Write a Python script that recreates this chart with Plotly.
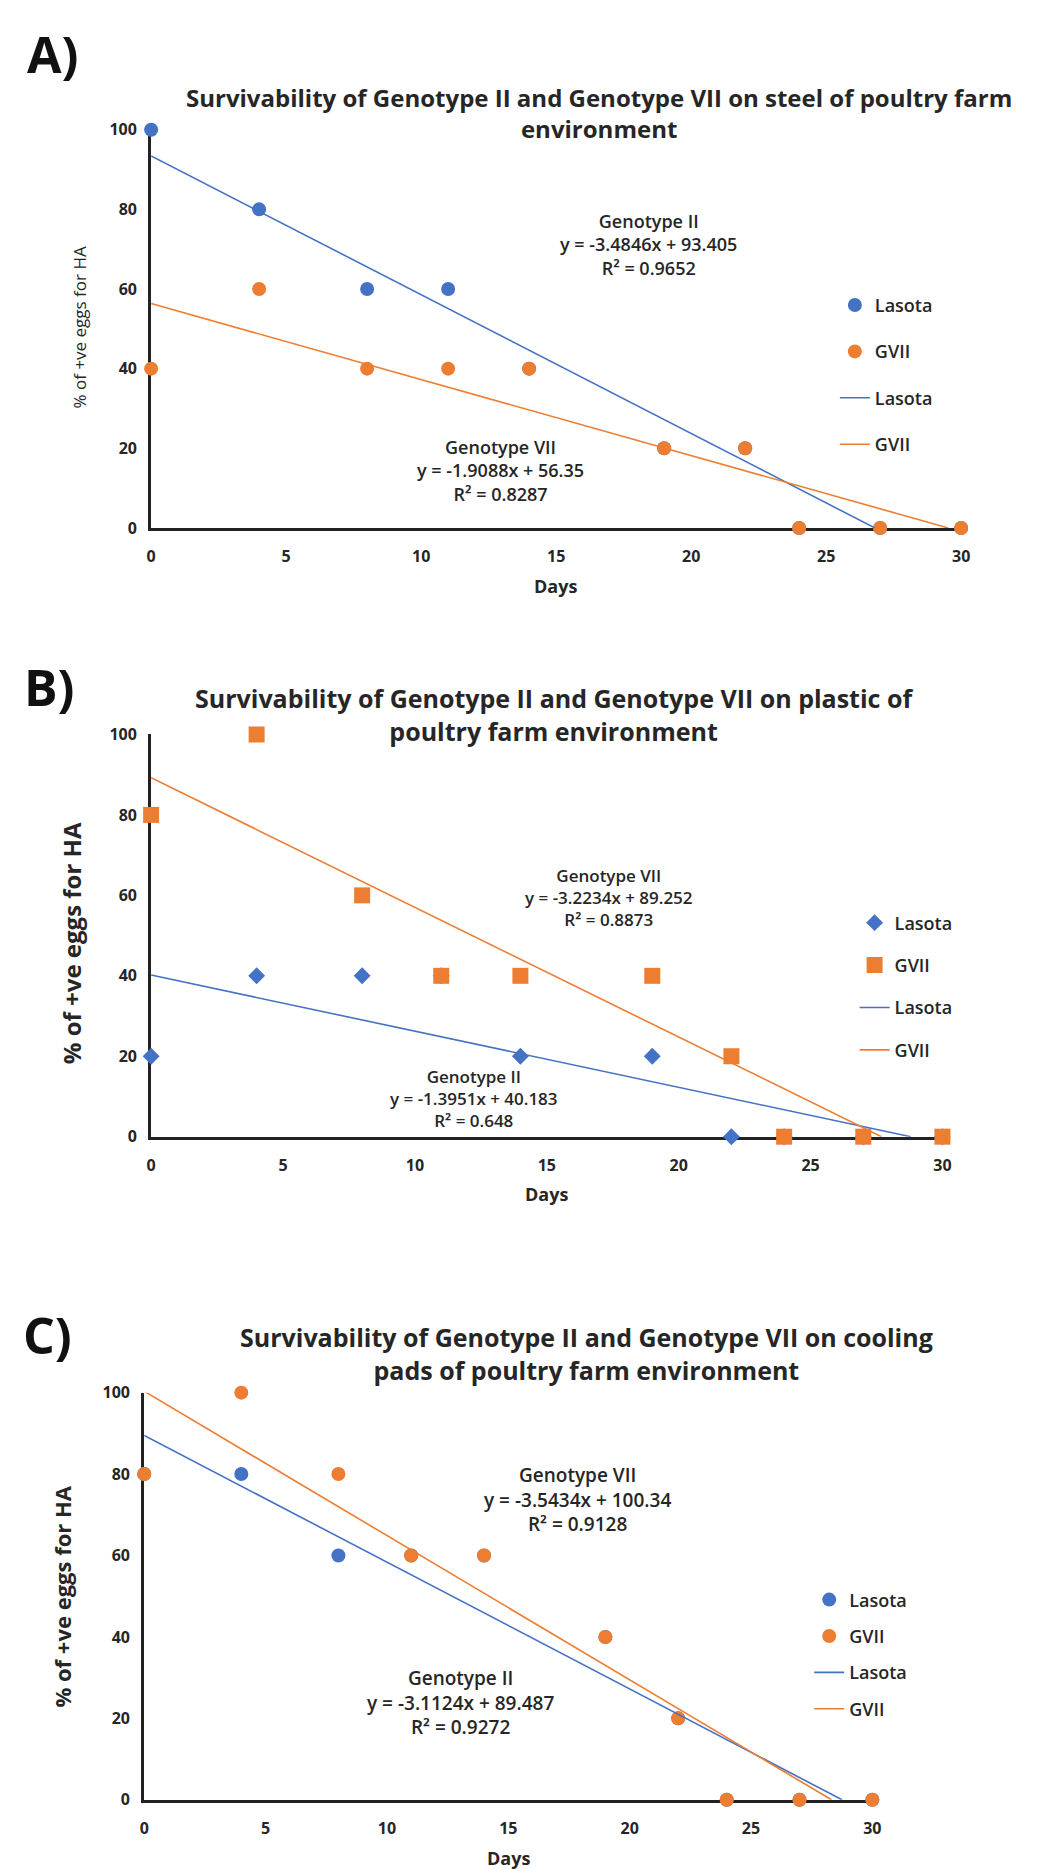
import numpy as np
import plotly.graph_objects as go

# ---------------- data ----------------
days = [0, 4, 8, 11, 14, 19, 22, 24, 27, 30]

steel_lasota = [100, 80, 60, 60, 40, 20, 20, 0, 0, 0]
steel_gvii = [40, 60, 40, 40, 40, 20, 20, 0, 0, 0]

plastic_lasota = [20, 40, 40, 40, 20, 20, 0, 0, 0, 0]
plastic_gvii = [80, 100, 60, 40, 40, 40, 20, 0, 0, 0]

pads_lasota = [80, 80, 60, 60, 60, 40, 20, 0, 0, 0]
pads_gvii = [80, 100, 80, 60, 60, 40, 20, 0, 0, 0]

series_names = ["Lasota", "GVII"]
x_ticks = [0, 5, 10, 15, 20, 25, 30]
y_ticks = [0, 20, 40, 60, 80, 100]

panel_letters = ["A)", "B)", "C)"]
panel_titles = [
    ["Survivability of Genotype II and Genotype VII on steel of poultry farm", "environment"],
    ["Survivability of Genotype II and Genotype VII on plastic of", "poultry farm environment"],
    ["Survivability of Genotype II and Genotype VII on cooling", "pads of poultry farm environment"],
]
y_title = "% of +ve eggs for HA"
x_title = "Days"

BLUE = "#4472C4"
ORANGE = "#ED7D31"
TXT = "#262626"
FONT = "Open Sans"

W, H = 1047, 1869


def px(x, y):
    return x / W, 1 - y / H


def fmt(v):
    return f"{v:.5g}"


def fit(x, y):
    m, b = np.polyfit(x, y, 1)
    pred = m * np.array(x) + b
    ss_res = np.sum((np.array(y) - pred) ** 2)
    ss_tot = np.sum((np.array(y) - np.mean(y)) ** 2)
    return m, b, 1 - ss_res / ss_tot


panels = [
    dict(lasota=steel_lasota, gvii=steel_gvii, sym_l="circle", sym_g="circle", sz_l=14, sz_g=14,
         xl=140, xr=961, yt=112, yb=515,
         letter=(40, 35), title=(594, 95, 24),
         ytitle=(67, 312, 17, False), days=(550, 574),
         legend=(833, 271, 20),
         ann=[("Genotype II", "lasota", 644, 228),
              ("Genotype VII", "gvii", 494, 457)],
         annsize=18),
    dict(lasota=plastic_lasota, gvii=plastic_gvii, sym_l="diamond", sym_g="square", sz_l=13, sz_g=16,
         xl=140, xr=942, yt=724, yb=1131,
         letter=(37, 676), title=(548, 704, 25),
         ytitle=(60, 935, 24, True), days=(541, 1189),
         legend=(853, 896, 16),
         ann=[("Genotype VII", "gvii", 604, 889),
              ("Genotype II", "lasota", 467, 1092)],
         annsize=17),
    dict(lasota=pads_lasota, gvii=pads_gvii, sym_l="circle", sym_g="circle", sz_l=14, sz_g=14,
         xl=133, xr=871, yt=1390, yb=1802,
         letter=(35, 1332), title=(581, 1350, 25),
         ytitle=(50, 1596, 22, True), days=(502, 1861),
         legend=(807, 1581, 10),
         ann=[("Genotype VII", "gvii", 572, 1498),
              ("Genotype II", "lasota", 454, 1704)],
         annsize=19),
]

fig = go.Figure()
annotations = []


def add_text(x, y, text, size, weight="normal", angle=0, color=TXT):
    xp, yp = px(x, y)
    annotations.append(dict(x=xp, y=yp, xref="paper", yref="paper", xanchor="center", yanchor="middle",
                            text=text, textangle=angle, showarrow=False, align="center",
                            font=dict(family=FONT, size=size, color=color, weight=weight)))


for i, p in enumerate(panels):
    k = "" if i == 0 else str(i + 1)
    xa, ya = "x" + k, "y" + k
    leg = "legend" + k
    fits = {"lasota": fit(days, p["lasota"]), "gvii": fit(days, p["gvii"])}

    fig.add_trace(go.Scatter(x=days, y=p["lasota"], mode="markers", name=series_names[0],
                             marker=dict(color=BLUE, size=p["sz_l"], symbol=p["sym_l"]),
                             xaxis=xa, yaxis=ya, legend=leg, legendgroup=f"a{i}", cliponaxis=False))
    fig.add_trace(go.Scatter(x=days, y=p["gvii"], mode="markers", name=series_names[1],
                             marker=dict(color=ORANGE, size=p["sz_g"], symbol=p["sym_g"]),
                             xaxis=xa, yaxis=ya, legend=leg, legendgroup=f"b{i}", cliponaxis=False))
    for key, col, name, grp in [("lasota", BLUE, series_names[0], "c"), ("gvii", ORANGE, series_names[1], "d")]:
        m, b, r2 = fits[key]
        x_end = min(30.0, -b / m)
        xs = [0.0, x_end]
        ys = [b + m * xv for xv in xs]
        fig.add_trace(go.Scatter(x=xs, y=ys, mode="lines", name=name,
                                 line=dict(color=col, width=1.6),
                                 xaxis=xa, yaxis=ya, legend=leg, legendgroup=f"{grp}{i}"))

    x0, y1 = px(p["xl"], p["yb"])
    x1, y0 = px(p["xr"], p["yt"])
    axis_common = dict(showgrid=False, zeroline=False, showline=True, linecolor="#222222",
                       linewidth=3, ticks="", layer="below traces",
                       tickfont=dict(family=FONT, size=16, color=TXT, weight="bold"))
    fig.update_layout(**{
        "xaxis" + k: dict(domain=[x0, x1], range=[0, 30], tickvals=x_ticks, anchor=ya,
                          ticklabelstandoff=12, **axis_common),
        "yaxis" + k: dict(domain=[y1, y0], range=[0, 100], tickvals=y_ticks, anchor=xa,
                          ticklabelstandoff=8, **axis_common),
    })

    lx, ly, gap = p["legend"]
    lxp, lyp = px(lx, ly)
    fig.update_layout(**{leg: dict(x=lxp, y=lyp, xanchor="left", yanchor="top",
                                   xref="paper", yref="paper",
                                   traceorder="grouped", tracegroupgap=gap,
                                   bgcolor="rgba(0,0,0,0)",
                                   font=dict(family=FONT, size=18, color=TXT, weight=600))})

    add_text(*p["letter"], panel_letters[i], 50, weight="bold", color="#111111")
    tx, ty, tsz = p["title"]
    add_text(tx, ty, "<br>".join(panel_titles[i]), tsz, weight="bold")
    yx, yy, ysz, ybold = p["ytitle"]
    add_text(yx, yy, y_title, ysz, weight=("bold" if ybold else "normal"), angle=-90)
    add_text(*p["days"], x_title, 18, weight="bold")
    for label, key, cx, cy in p["ann"]:
        m, b, r2 = fits[key]
        texts = [label, f"y = {fmt(m)}x + {fmt(b)}", f"R² = {r2:.4g}"]
        add_text(cx, cy, "<br>".join(texts), p["annsize"], weight=600)

fig.update_layout(width=W, height=H, autosize=False, margin=dict(l=0, r=0, t=0, b=0),
                  paper_bgcolor="white", plot_bgcolor="white", annotations=annotations,
                  showlegend=True)

fig.write_html("out.html")
